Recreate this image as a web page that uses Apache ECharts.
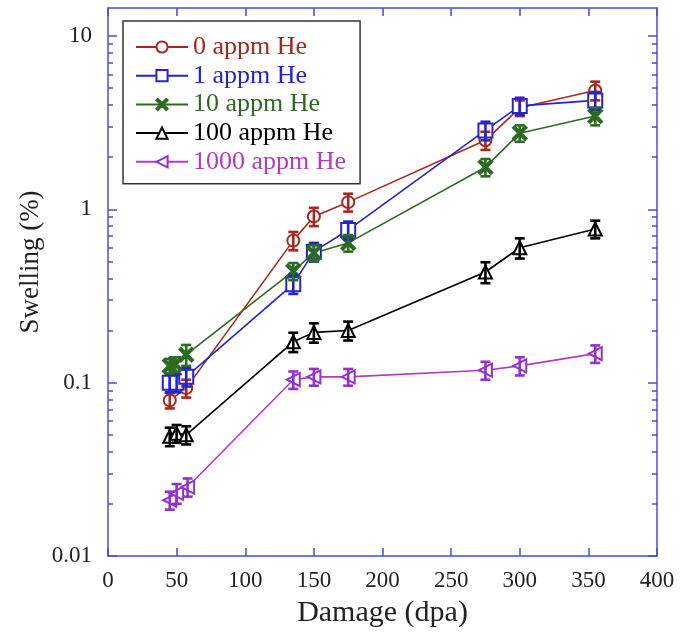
<!DOCTYPE html>
<html>
<head>
<meta charset="utf-8">
<script src="https://cdn.jsdelivr.net/npm/echarts@6/dist/echarts.min.js"></script>
<style>
html,body{margin:0;padding:0;background:#fff;}
#chart{width:680px;height:638px;}
</style>
</head>
<body>
<div id="chart"></div>
<script>
// ---- data ----
const seriesNames = ['0 appm He', '1 appm He', '10 appm He', '100 appm He', '1000 appm He'];

const x0 = [45, 57, 135, 150, 175, 275, 300, 355];
const y0 = [0.079, 0.093, 0.66, 0.91, 1.1, 2.5, 3.85, 4.85];
const e0 = [0.008, 0.011, 0.08, 0.11, 0.13, 0.3, 0.4, 0.6];

const x1 = [45, 50, 57, 135, 150, 175, 275, 300, 355];
const y1 = [0.1, 0.1, 0.108, 0.37, 0.57, 0.76, 2.85, 3.95, 4.25];
const e1 = [0.012, 0.012, 0.013, 0.045, 0.07, 0.09, 0.35, 0.45, 0.5];

const x2 = [45, 49, 57, 135, 150, 175, 275, 300, 355];
const y2 = [0.125, 0.128, 0.145, 0.44, 0.56, 0.64, 1.75, 2.75, 3.45];
const e2 = [0.012, 0.012, 0.02, 0.05, 0.06, 0.07, 0.2, 0.3, 0.4];

const x3 = [45, 50, 57, 135, 150, 175, 275, 300, 355];
const y3 = [0.049, 0.051, 0.05, 0.172, 0.195, 0.2, 0.435, 0.6, 0.77];
const e3 = [0.006, 0.006, 0.006, 0.022, 0.025, 0.025, 0.06, 0.08, 0.09];

const x4 = [45, 50, 58, 135, 150, 175, 275, 300, 355];
const y4 = [0.021, 0.023, 0.025, 0.104, 0.108, 0.108, 0.118, 0.125, 0.147];
const e4 = [0.0025, 0.003, 0.003, 0.012, 0.012, 0.012, 0.014, 0.015, 0.017];

const xTicks = [0, 50, 100, 150, 200, 250, 300, 350, 400];
const yTickValues = [0.01, 0.1, 1, 10];
const yTickLabels = ['0.01', '0.1', '1', '10'];
const yMinorMantissas = [2, 3, 4, 5, 6, 7, 8, 9];

// ---- styles ----
const FONT = 'Liberation Serif';
const AXIS = '#4b4bd6';
const colors = ['#a8281e', '#2424cc', '#2e6a20', '#000000', '#b43cbc'];
const barColors = ['#a8281e', '#2424cc', '#2e6a20', '#000000', '#9430d0'];
const symbols = ['emptyCircle', 'emptyRect', 'path://M0,1.2L1.2,0L5,3.8L8.8,0L10,1.2L6.2,5L10,8.8L8.8,10L5,6.2L1.2,10L0,8.8L3.8,5Z', 'emptyTriangle', 'emptyTriangle'];
const symbolSizes = [12, 14, 14, 13, 13];
const symbolRotates = [0, 0, 0, 0, 90];

const xs = [x0, x1, x2, x3, x4];
const ys = [y0, y1, y2, y3, y4];
const es = [e0, e1, e2, e3, e4];

const yMax = 14.5;
const logMin = Math.log10(0.01);
const logMax = Math.log10(yMax);
const majorLog = yTickValues.map(v => Math.log10(v));
const minorLog = [];
for (let d = -2; d <= 0; d++) {
  yMinorMantissas.forEach(m => minorLog.push(Math.log10(m * Math.pow(10, d))));
}

const series = [];
for (let i = 0; i < 5; i++) {
  const pts = xs[i].map((x, k) => [x, ys[i][k]]);
  series.push({
    name: seriesNames[i],
    type: 'line',
    xAxisIndex: 0, yAxisIndex: 0,
    data: pts,
    symbol: symbols[i],
    symbolSize: symbolSizes[i],
    symbolRotate: symbolRotates[i],
    showAllSymbol: true,
    lineStyle: { color: colors[i], width: 1.6 },
    itemStyle: { color: i === 2 ? colors[i] : barColors[i], borderColor: barColors[i], borderWidth: 1.8 },
    z: 3
  });
  const ebData = xs[i].map((x, k) => [x, ys[i][k] - es[i][k], ys[i][k] + es[i][k]]);
  const c = barColors[i];
  series.push({
    type: 'custom',
    name: 'err' + i,
    xAxisIndex: 0, yAxisIndex: 0,
    data: ebData,
    encode: { x: 0, y: [1, 2] },
    z: 4,
    renderItem: function (params, api) {
      const x = api.value(0);
      const lo = api.coord([x, api.value(1)]);
      const hi = api.coord([x, api.value(2)]);
      const hw = 5;
      const st = { stroke: c, lineWidth: 2.6, fill: null };
      return {
        type: 'group',
        children: [
          { type: 'line', shape: { x1: lo[0], y1: lo[1], x2: hi[0], y2: hi[1] }, style: st },
          { type: 'line', shape: { x1: lo[0] - hw, y1: lo[1], x2: lo[0] + hw, y2: lo[1] }, style: st },
          { type: 'line', shape: { x1: hi[0] - hw, y1: hi[1], x2: hi[0] + hw, y2: hi[1] }, style: st }
        ]
      };
    }
  });
}

function logAxis(pos, major, withLabels) {
  return {
    type: 'value', position: pos, min: logMin, max: logMax,
    axisLine: { show: false, onZero: false },
    splitLine: { show: false },
    axisTick: { show: true, inside: true, length: major ? 9 : 5, customValues: major ? majorLog : minorLog,
      lineStyle: { color: AXIS, width: 1.5 } },
    axisLabel: withLabels ? {
      show: true, customValues: majorLog, margin: 16,
      fontFamily: FONT, fontSize: 23, color: '#222',
      formatter: function (v) {
        const idx = majorLog.findIndex(m => Math.abs(m - v) < 1e-6);
        return idx >= 0 ? yTickLabels[idx] : '';
      }
    } : { show: false }
  };
}

const option = {
  animation: false,
  backgroundColor: '#ffffff',
  grid: { left: 108, right: 23, top: 8, bottom: 82, containLabel: false, outerBoundsMode: 'none' },
  legend: {
    show: true,
    orient: 'vertical',
    left: 123, top: 21,
    padding: [12, 14, 8, 12],
    itemWidth: 52, itemHeight: 14, itemGap: 0.7,
    borderColor: '#333', borderWidth: 1.5,
    backgroundColor: '#fff',
    textStyle: { fontFamily: FONT, fontSize: 26, lineHeight: 28 },
    data: seriesNames.map((n, i) => ({ name: n, textStyle: { color: colors[i] } }))
  },
  xAxis: [
    {
      type: 'value', position: 'bottom', min: 0, max: 400, interval: 50,
      name: 'Damage (dpa)', nameLocation: 'middle', nameGap: 42,
      nameTextStyle: { fontFamily: FONT, fontSize: 30, color: '#222' },
      axisLine: { show: true, onZero: false, lineStyle: { color: AXIS, width: 1.5 } },
      axisTick: { show: true, inside: true, length: 8, lineStyle: { color: AXIS, width: 1.5 } },
      axisLabel: { margin: 13, fontFamily: FONT, fontSize: 23, color: '#222',
        formatter: function (v) { const i = xTicks.indexOf(v); return i >= 0 ? String(xTicks[i]) : ''; } },
      splitLine: { show: false }
    },
    {
      type: 'value', position: 'top', min: 0, max: 400, interval: 50,
      axisLine: { show: true, onZero: false, lineStyle: { color: AXIS, width: 1.5 } },
      axisTick: { show: true, inside: true, length: 8, lineStyle: { color: AXIS, width: 1.5 } },
      axisLabel: { show: false },
      splitLine: { show: false }
    }
  ],
  yAxis: [
    {
      type: 'log', position: 'left', min: 0.01, max: yMax, logBase: 10,
      name: 'Swelling (%)', nameLocation: 'middle', nameGap: 64, nameRotate: 90,
      nameTextStyle: { fontFamily: FONT, fontSize: 27, color: '#222', padding: [0, 0, 0, 40] },
      axisLine: { show: true, onZero: false, lineStyle: { color: AXIS, width: 1.5 } },
      axisTick: { show: false },
      axisLabel: { show: false },
      splitLine: { show: false }
    },
    {
      type: 'log', position: 'right', min: 0.01, max: yMax, logBase: 10,
      axisLine: { show: true, onZero: false, lineStyle: { color: AXIS, width: 1.5 } },
      axisTick: { show: false },
      axisLabel: { show: false },
      splitLine: { show: false }
    },
    logAxis('left', true, true),
    logAxis('left', false, false),
    logAxis('right', true, false),
    logAxis('right', false, false)
  ],
  series: series
};

const chart = echarts.init(document.getElementById('chart'), null, { renderer: 'canvas' });
chart.setOption(option);
</script>
</body>
</html>
